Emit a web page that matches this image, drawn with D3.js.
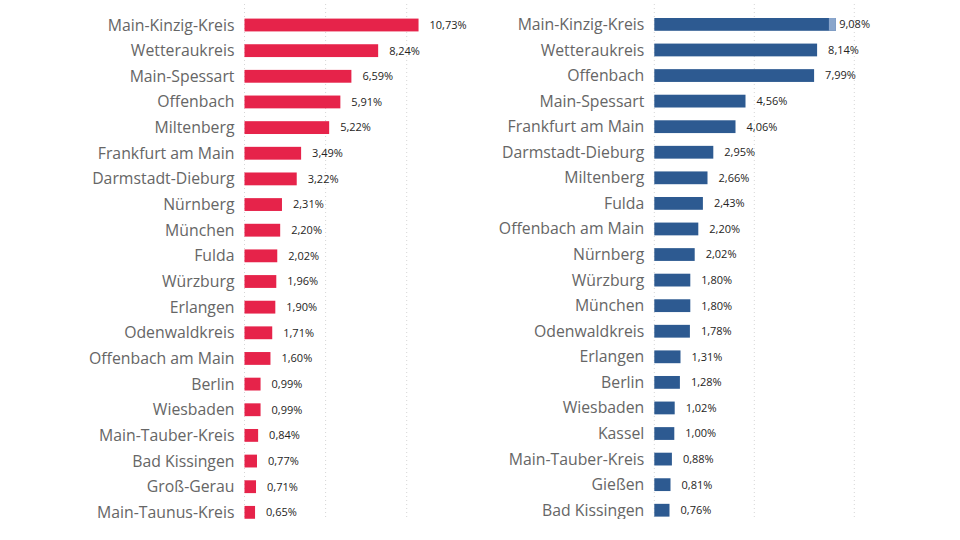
<!DOCTYPE html>
<html><head><meta charset="utf-8">
<script src="https://cdn.jsdelivr.net/npm/d3@7"></script>
<style>
html,body{margin:0;padding:0;background:#fff;}
svg{display:block;}
</style></head>
<body>
<svg id="chart" width="960" height="540"></svg>
<script>
const leftCategories = ["Main-Kinzig-Kreis","Wetteraukreis","Main-Spessart","Offenbach","Miltenberg","Frankfurt am Main","Darmstadt-Dieburg","Nürnberg","München","Fulda","Würzburg","Erlangen","Odenwaldkreis","Offenbach am Main","Berlin","Wiesbaden","Main-Tauber-Kreis","Bad Kissingen","Groß-Gerau","Main-Taunus-Kreis"];
const leftValues = [10.73,8.24,6.59,5.91,5.22,3.49,3.22,2.31,2.20,2.02,1.96,1.90,1.71,1.60,0.99,0.99,0.84,0.77,0.71,0.65];
const rightCategories = ["Main-Kinzig-Kreis","Wetteraukreis","Offenbach","Main-Spessart","Frankfurt am Main","Darmstadt-Dieburg","Miltenberg","Fulda","Offenbach am Main","Nürnberg","Würzburg","München","Odenwaldkreis","Erlangen","Berlin","Wiesbaden","Kassel","Main-Tauber-Kreis","Gießen","Bad Kissingen"];
const rightValues = [9.08,8.14,7.99,4.56,4.06,2.95,2.66,2.43,2.20,2.02,1.80,1.80,1.78,1.31,1.28,1.02,1.00,0.88,0.81,0.76];
const gridTicks = [0,5,10];

const svg = d3.select("#chart");
const fmt = v => d3.format(".2f")(v).replace(".", ",") + "%";

function panel(cfg){
  const g = svg.append("g");
  const clipId = "clip" + cfg.id;
  svg.append("defs").append("clipPath").attr("id", clipId)
    .append("rect").attr("x", cfg.x0 - 240).attr("y", 0).attr("width", 480).attr("height", 519);
  g.attr("clip-path", `url(#${clipId})`);

  const x = d3.scaleLinear().domain([0,10]).range([cfg.x0, cfg.x0 + cfg.pxPer5*2]);
  const y = d3.scaleBand().domain(cfg.cats)
    .range([cfg.yc0 - cfg.step*0.5, cfg.yc0 + cfg.step*(cfg.cats.length-0.5)])
    .paddingInner(0.5).paddingOuter(0.25);

  g.append("g").selectAll("line").data(gridTicks).join("line")
    .attr("x1", d => x(d)).attr("x2", d => x(d))
    .attr("y1", 4).attr("y2", 520)
    .attr("stroke", "#d6d6d6").attr("stroke-width", 1)
    .attr("stroke-dasharray", "1,3");

  const data = cfg.cats.map((c,i) => ({c, v: cfg.vals[i]}));
  g.append("g").selectAll("rect").data(data).join("rect")
    .attr("x", x(0))
    .attr("y", d => y(d.c))
    .attr("width", d => x(d.v) - x(0))
    .attr("height", y.bandwidth())
    .attr("fill", cfg.color);

  if (cfg.highlight) {
    const d0 = data[0];
    g.append("rect").attr("x", x(d0.v) - 7).attr("y", y(d0.c))
      .attr("width", 7).attr("height", y.bandwidth()).attr("fill", cfg.highlight);
  }

  g.append("g").selectAll("text").data(data).join("text")
    .attr("x", x(0) - 10)
    .attr("y", d => y(d.c) + y.bandwidth()/2)
    .attr("dy", "0.35em")
    .attr("text-anchor", "end")
    .attr("font-family", "'Open Sans', sans-serif")
    .attr("font-size", 15.8)
    .attr("fill", "#666666")
    .text(d => d.c);

  const vl = g.append("g").selectAll("text").data(data).join("text")
    .attr("y", d => y(d.c) + y.bandwidth()/2)
    .attr("dy", "0.35em")
    .attr("font-family", "'Open Sans', sans-serif")
    .attr("font-size", 11)
    .attr("fill", "#252423")
    .text(d => fmt(d.v));
  vl.each(function(d){
    const w = this.getComputedTextLength();
    const xx = Math.min(x(d.v) + 11, cfg.labelLimit - w);
    d3.select(this).attr("x", xx);
  });
}

panel({id:"L", cats: leftCategories, vals: leftValues, x0: 244.5, pxPer5: 81.1, yc0: 25, step: 25.65, color: "#E6234A", labelLimit: 475});
panel({id:"R", cats: rightCategories, vals: rightValues, x0: 654.3, pxPer5: 100, yc0: 24.4, step: 25.57, color: "#2D5A91", highlight: "#8AA6CC", labelLimit: 870});
</script>
</body></html>
